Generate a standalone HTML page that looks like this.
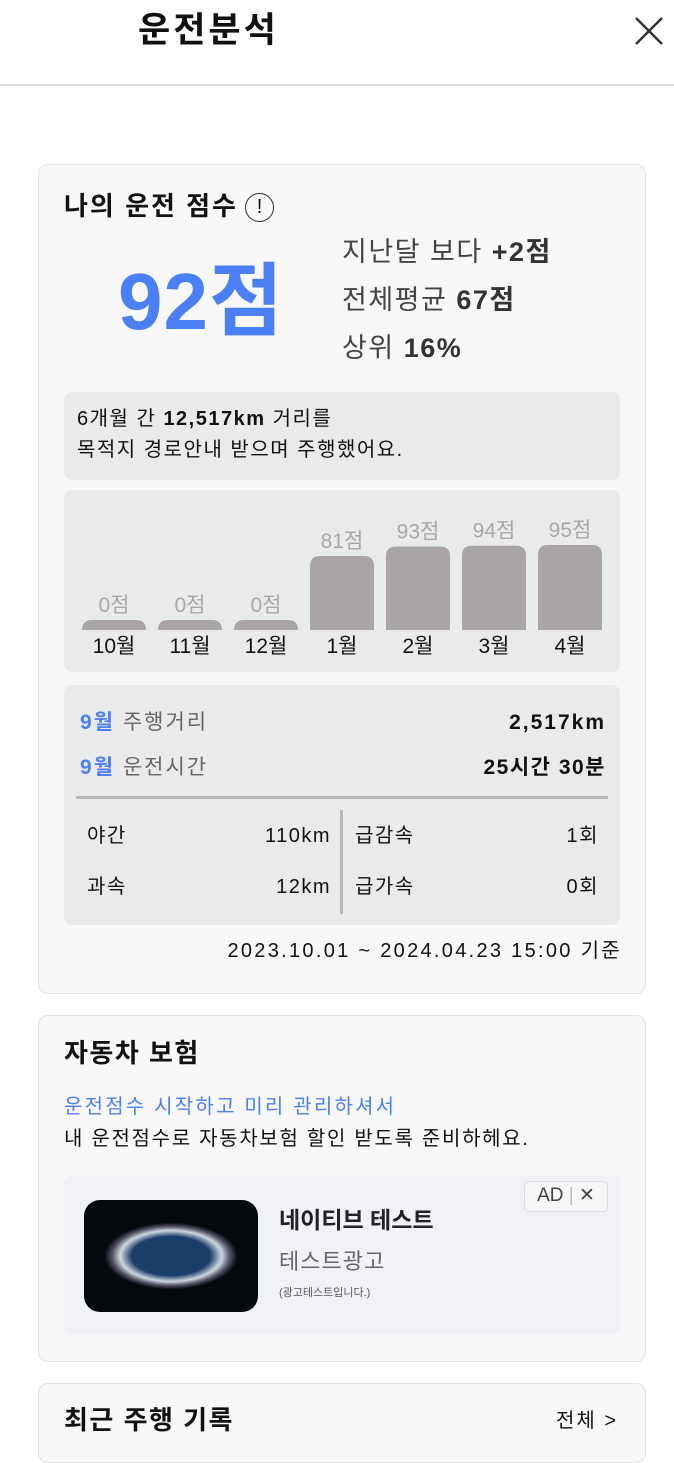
<!DOCTYPE html>
<html><head><meta charset="utf-8">
<style>
*{margin:0;padding:0;box-sizing:border-box}
body{width:674px;height:1434px;overflow:hidden;background:#fff;font-family:"Liberation Sans","Noto Sans CJK KR",sans-serif;position:relative;color:#111}
.a{position:absolute;white-space:nowrap;line-height:1}
.card{position:absolute;left:38px;width:608px;background:#f8f8f9;border:1.5px solid #e2e2e4;border-radius:10px}
.box{position:absolute;left:64px;width:556px;background:#e8eaec;border-radius:8px}
</style></head><body>
<div class="a" style="left:138px;top:13px;font-size:35px;font-weight:bold;letter-spacing:3px">운전분석</div>
<svg class="a" style="left:634px;top:16px" width="30" height="30"><path d="M2 2L28 28M28 2L2 28" stroke="#333" stroke-width="2.5"/></svg>
<div class="a" style="left:0;top:84px;width:674px;height:1.5px;background:#ddd"></div>

<div class="card" style="top:164px;height:830px"></div>
<div class="a" style="left:64px;top:193px;font-size:26px;font-weight:bold;letter-spacing:2px">나의 운전 점수</div>
<div class="a" style="left:245px;top:193px;width:29px;height:29px;border:1.5px solid #333;border-radius:50%;font-size:20px;text-align:center;line-height:26px">!</div>
<div class="a" style="left:118px;top:262px;font-size:80px;font-weight:bold;color:#4a7ff5;letter-spacing:1px">92점</div>
<div class="a" style="left:342px;top:239px;font-size:27px;color:#444;letter-spacing:1.5px">지난달 보다 <b style="color:#333">+2점</b></div>
<div class="a" style="left:342px;top:287px;font-size:27px;color:#444;letter-spacing:1.5px">전체평균 <b style="color:#333">67점</b></div>
<div class="a" style="left:342px;top:335px;font-size:27px;color:#444;letter-spacing:1.5px">상위 <b style="color:#333">16%</b></div>

<div class="box" style="top:392px;height:88px"></div>
<div class="a" style="left:77px;top:409px;font-size:20px;letter-spacing:1.5px">6개월 간 <b>12,517km</b> 거리를</div>
<div class="a" style="left:77px;top:440px;font-size:20px;letter-spacing:1.5px">목적지 경로안내 받으며 주행했어요.</div>

<div class="box" style="top:490px;height:182px"></div>
<svg id="chart" class="a" style="left:64px;top:490px" width="556" height="182"></svg>

<div class="box" style="top:685px;height:240px"></div>
<div class="a" style="left:80px;top:712px;font-size:21px;color:#666;letter-spacing:2px"><b style="color:#4a7ff5">9월</b> 주행거리</div>
<div class="a" style="right:68px;top:712px;font-size:21px;font-weight:bold;letter-spacing:2px">2,517km</div>
<div class="a" style="left:80px;top:757px;font-size:21px;color:#666;letter-spacing:2px"><b style="color:#4a7ff5">9월</b> 운전시간</div>
<div class="a" style="right:68px;top:757px;font-size:21px;font-weight:bold;letter-spacing:1.5px">25시간 30분</div>
<div class="a" style="left:76px;top:796px;width:532px;height:3px;background:#bab5b5"></div>
<div class="a" style="left:340px;top:810px;width:3px;height:104px;background:#bab5b5"></div>
<div class="a" style="left:87px;top:826px;font-size:20px;letter-spacing:1.5px">야간</div>
<div class="a" style="right:343px;top:826px;font-size:20px;letter-spacing:1.5px">110km</div>
<div class="a" style="left:87px;top:877px;font-size:20px;letter-spacing:1.5px">과속</div>
<div class="a" style="right:343px;top:877px;font-size:20px;letter-spacing:1.5px">12km</div>
<div class="a" style="left:355px;top:826px;font-size:20px;letter-spacing:1.5px">급감속</div>
<div class="a" style="right:75px;top:826px;font-size:20px;letter-spacing:1.5px">1회</div>
<div class="a" style="left:355px;top:877px;font-size:20px;letter-spacing:1.5px">급가속</div>
<div class="a" style="right:75px;top:877px;font-size:20px;letter-spacing:1.5px">0회</div>
<div class="a" style="right:52px;top:941px;font-size:20px;letter-spacing:2.3px">2023.10.01 ~ 2024.04.23 15:00 기준</div>

<div class="card" style="top:1015px;height:347px"></div>
<div class="a" style="left:64px;top:1040px;font-size:26px;font-weight:bold;letter-spacing:1.5px">자동차 보험</div>
<div class="a" style="left:64px;top:1097px;font-size:20px;color:#4a7ff5;letter-spacing:2.2px">운전점수 시작하고 미리 관리하셔서</div>
<div class="a" style="left:64px;top:1129px;font-size:20px;letter-spacing:1.7px">내 운전점수로 자동차보험 할인 받도록 준비하헤요.</div>
<div class="a" style="left:64px;top:1176px;width:556px;height:159px;background:#f1f2f7;border-radius:6px"></div>
<div class="a" style="left:84px;top:1200px;width:174px;height:112px;background:radial-gradient(ellipse 45% 35% at 50% 50%,#1b3d6a 0%,#1b3d6a 50%,#cfd7e0 65%,#556 75%,#05080c 85%);border-radius:16px"></div>
<div class="a" style="left:279px;top:1209px;font-size:23px;font-weight:bold;color:#222">네이티브 테스트</div>
<div class="a" style="left:279px;top:1251px;font-size:22px;color:#666;letter-spacing:1px">테스트광고</div>
<div class="a" style="left:279px;top:1288px;font-size:11px;color:#555">(광고테스트입니다.)</div>
<div class="a" style="left:524px;top:1181px;width:84px;height:31px;border:1.5px solid #ddd;border-radius:5px;background:#f7f7f9;font-size:19px;color:#444;text-align:center;line-height:28px">AD <span style="color:#bbb">|</span> ✕</div>

<div class="card" style="top:1383px;height:80px"></div>
<div class="a" style="left:64px;top:1407px;font-size:26px;font-weight:bold;letter-spacing:1.5px">최근 주행 기록</div>
<div class="a" style="left:556px;top:1411px;font-size:20px;letter-spacing:2px">전체 &gt;</div>

<script>
const months=["10월","11월","12월","1월","2월","3월","4월"];
const scores=[0,0,0,81,93,94,95];
const svg=document.getElementById('chart');
const NS="http://www.w3.org/2000/svg";
const x0=18,pitch=76,bw=64,base=140;
function h(v){return 10+v*0.79;}
months.forEach((m,i)=>{
  const x=x0+i*pitch, y=base-h(scores[i]);
  const p=document.createElementNS(NS,'path');
  const r=Math.min(10,h(scores[i]));
  p.setAttribute('d',`M${x} ${base}V${y+r}Q${x} ${y} ${x+r} ${y}H${x+bw-r}Q${x+bw} ${y} ${x+bw} ${y+r}V${base}Z`);
  p.setAttribute('fill','#a9a5a4');
  
  
  svg.appendChild(p);
  const t=document.createElementNS(NS,'text');
  t.setAttribute('x',x+bw/2);t.setAttribute('y',y-8);
  t.setAttribute('text-anchor','middle');t.setAttribute('font-size','21');t.setAttribute('fill','#a7a7a7');
  t.textContent=scores[i]+'점';
  
  
  svg.appendChild(t);
  const l=document.createElementNS(NS,'text');
  l.setAttribute('x',x+bw/2);l.setAttribute('y',163);
  l.setAttribute('text-anchor','middle');l.setAttribute('font-size','21');l.setAttribute('fill','#111');
  l.textContent=m;
  
  
  svg.appendChild(l);
});
</script>
</body></html>
